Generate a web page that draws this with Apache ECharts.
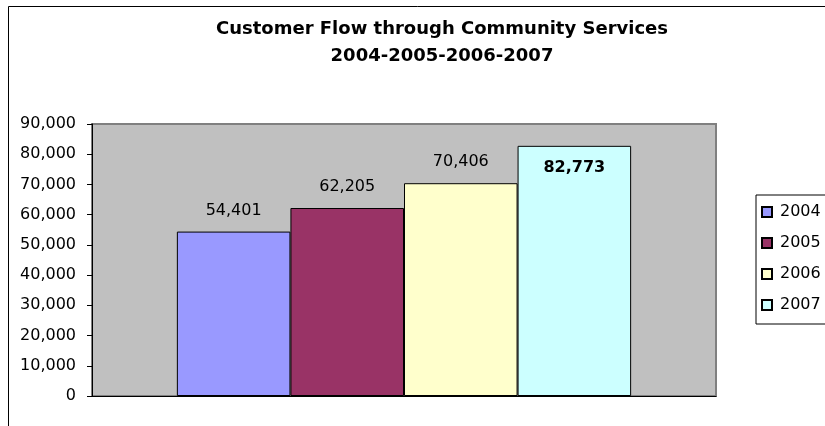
<!DOCTYPE html>
<html>
<head>
<meta charset="utf-8">
<script src="https://cdn.jsdelivr.net/npm/echarts@6/dist/echarts.min.js"></script>
<style>
  html, body { margin: 0; padding: 0; background: #fff; }
  #chart { width: 825px; height: 426px; }
</style>
</head>
<body>
<div id="chart"></div>
<script>
// Yearly customer counts, one bar per year
const years = ['2004', '2005', '2006', '2007'];
const customers = [54401, 62205, 70406, 82773];
const barColors = ['#9999FF', '#993366', '#FFFFCC', '#CCFFFF'];
const titleText = 'Customer Flow through Community Services\n2004-2005-2006-2007';

const FONT = 'DejaVu Sans';
const fmt = v => v.toLocaleString('en-US');

const series = years.map((y, i) => {
  const last = i === years.length - 1;
  return {
    name: y,
    type: 'bar',
    data: [customers[i]],
    barGap: '0%',
    barCategoryGap: '27.2%',
    itemStyle: { color: barColors[i], borderColor: '#000', borderWidth: 1 },
    label: {
      show: true,
      position: last ? 'insideTop' : 'top',
      distance: last ? 14 : 13,
      formatter: p => fmt(p.value),
      color: '#000',
      fontFamily: FONT,
      fontSize: 16,
      fontWeight: last ? 'bold' : 'normal'
    }
  };
});

const chart = echarts.init(document.getElementById('chart'), null, { renderer: 'canvas' });
chart.setOption({
  animation: false,
  backgroundColor: '#fff',
  title: {
    text: titleText,
    left: 437,
    top: 11,
    textAlign: 'center',
    textStyle: { fontFamily: FONT, fontSize: 18, fontWeight: 'bold', color: '#000', lineHeight: 27 }
  },
  // outer chart frame, running past the right and bottom edges
  graphic: [{
    type: 'rect',
    shape: { x: 8.5, y: 6.5, width: 1000, height: 1000 },
    style: { fill: 'none', stroke: '#000', lineWidth: 1 },
    silent: true,
    z: -1
  }],
  legend: {
    orient: 'vertical',
    left: 756,
    top: 195,
    padding: [7, 8, 9, 5],
    itemGap: 11,
    itemWidth: 10,
    itemHeight: 10,
    icon: 'rect',
    backgroundColor: '#fff',
    borderColor: '#000',
    borderWidth: 1,
    textStyle: { fontFamily: FONT, fontSize: 16, color: '#000', lineHeight: 20, width: 60, padding: [0, 0, 0, 3] }
  },
  grid: {
    left: 92, top: 124, right: 109, bottom: 30,
    show: true,
    backgroundColor: '#C0C0C0',
    borderColor: '#808080',
    borderWidth: 2
  },
  xAxis: {
    type: 'category',
    data: [''],
    axisLine: { show: true, lineStyle: { color: '#000', width: 1 } },
    axisTick: { show: false },
    axisLabel: { show: false }
  },
  yAxis: {
    type: 'value',
    min: 0,
    max: 90000,
    interval: 10000,
    axisLine: { show: true, lineStyle: { color: '#000', width: 1 } },
    axisTick: { show: true, length: 5, lineStyle: { color: '#000' } },
    splitLine: { show: false },
    axisLabel: {
      formatter: v => fmt(v),
      color: '#000',
      fontFamily: FONT,
      fontSize: 16,
      margin: 16
    }
  },
  series: series
});
</script>
</body>
</html>
